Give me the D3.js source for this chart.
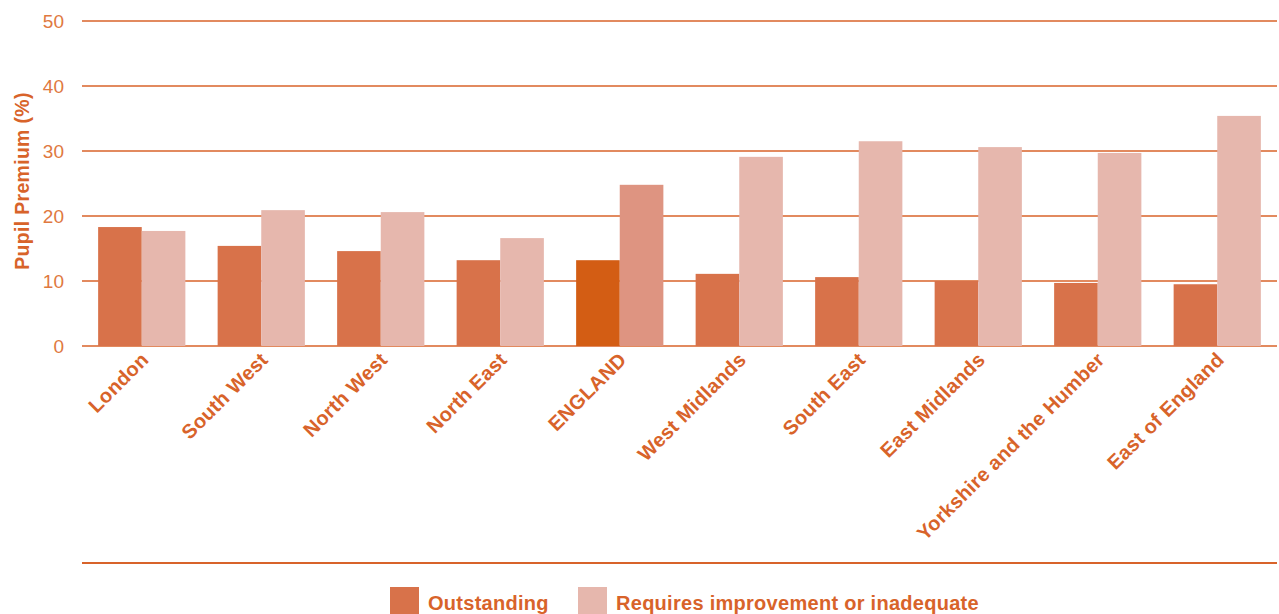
<!DOCTYPE html>
<html>
<head>
<meta charset="utf-8">
<script src="https://cdn.jsdelivr.net/npm/d3@7"></script>
<style>
  html, body { margin: 0; padding: 0; background: #fff; }
  svg { display: block; font-family: "Liberation Sans", Arial, Helvetica, sans-serif; }
</style>
</head>
<body>
<svg id="chart" width="1279" height="614"></svg>
<script>
// Pupil premium share by region, split by inspection outcome
const regions = ["London", "South West", "North West", "North East", "ENGLAND",
  "West Midlands", "South East", "East Midlands", "Yorkshire and the Humber", "East of England"];
const outstanding = [18.3, 15.4, 14.6, 13.2, 13.2, 11.1, 10.6, 10.0, 9.7, 9.5];
const requiresImprovement = [17.7, 20.9, 20.6, 16.6, 24.8, 29.1, 31.5, 30.6, 29.7, 35.4];
const yTicks = [0, 10, 20, 30, 40, 50];
const seriesNames = ["Outstanding", "Requires improvement or inadequate"];

const orange = "#D8632A";
const colOut = "#D8724A", colReq = "#E6B7AD";
const colOutTotal = "#D35D14", colReqTotal = "#DE9481";

const svg = d3.select("#chart");

const x = d3.scaleBand().domain(regions).range([82, 1277])
  .paddingInner(0.27).paddingOuter(0.135);
const xs = d3.scaleBand().domain([0, 1]).range([0, x.bandwidth()]);
const y = d3.scaleLinear().domain([0, 50]).range([346, 21]);

// gridlines
svg.append("g").selectAll("line").data(yTicks).join("line")
  .attr("x1", 82).attr("x2", 1277)
  .attr("y1", d => y(d)).attr("y2", d => y(d))
  .attr("stroke", orange).attr("stroke-width", 1.3);

// tick labels
svg.append("g").selectAll("text").data(yTicks).join("text")
  .attr("x", 64).attr("y", d => y(d)).attr("dy", "0.35em")
  .attr("text-anchor", "end").attr("font-size", 19)
  .attr("fill", "#E0793F").text(d => d);

// axis title
svg.append("text")
  .attr("transform", "translate(29,181) rotate(-90)")
  .attr("text-anchor", "middle").attr("font-size", 19.5).attr("font-weight", "bold")
  .attr("letter-spacing", 0.3)
  .attr("fill", orange).text("Pupil Premium (%)");

// bars
const groups = svg.append("g").selectAll("g").data(regions).join("g")
  .attr("transform", d => `translate(${x(d)},0)`);

groups.append("rect")
  .attr("x", xs(0)).attr("width", xs.bandwidth())
  .attr("y", (d, i) => y(outstanding[i]))
  .attr("height", (d, i) => y(0) - y(outstanding[i]))
  .attr("fill", d => d === "ENGLAND" ? colOutTotal : colOut);

groups.append("rect")
  .attr("x", xs(1)).attr("width", xs.bandwidth())
  .attr("y", (d, i) => y(requiresImprovement[i]))
  .attr("height", (d, i) => y(0) - y(requiresImprovement[i]))
  .attr("fill", d => d === "ENGLAND" ? colReqTotal : colReq);

// category labels
svg.append("g").selectAll("text").data(regions).join("text")
  .attr("transform", d => `translate(${x(d) + x.bandwidth() / 2 + 8},${361}) rotate(-45)`)
  .attr("text-anchor", "end").attr("font-size", 20).attr("font-weight", "bold")
  .attr("letter-spacing", 0.28)
  .attr("fill", orange).text(d => d);

// bottom rule
svg.append("line").attr("x1", 82).attr("x2", 1277).attr("y1", 563).attr("y2", 563)
  .attr("stroke", orange).attr("stroke-width", 2.2);

// legend
const legendX = [390, 578];
const legendColors = [colOut, colReq];
const legend = svg.append("g").selectAll("g").data(seriesNames).join("g")
  .attr("transform", (d, i) => `translate(${legendX[i]},587)`);
legend.append("rect").attr("width", 29).attr("height", 29)
  .attr("fill", (d, i) => legendColors[i]);
legend.append("text").attr("x", 38).attr("y", 23)
  .attr("font-size", 20).attr("font-weight", "bold").attr("fill", orange)
  .attr("letter-spacing", 0.28)
  .text(d => d);
</script>
</body>
</html>
